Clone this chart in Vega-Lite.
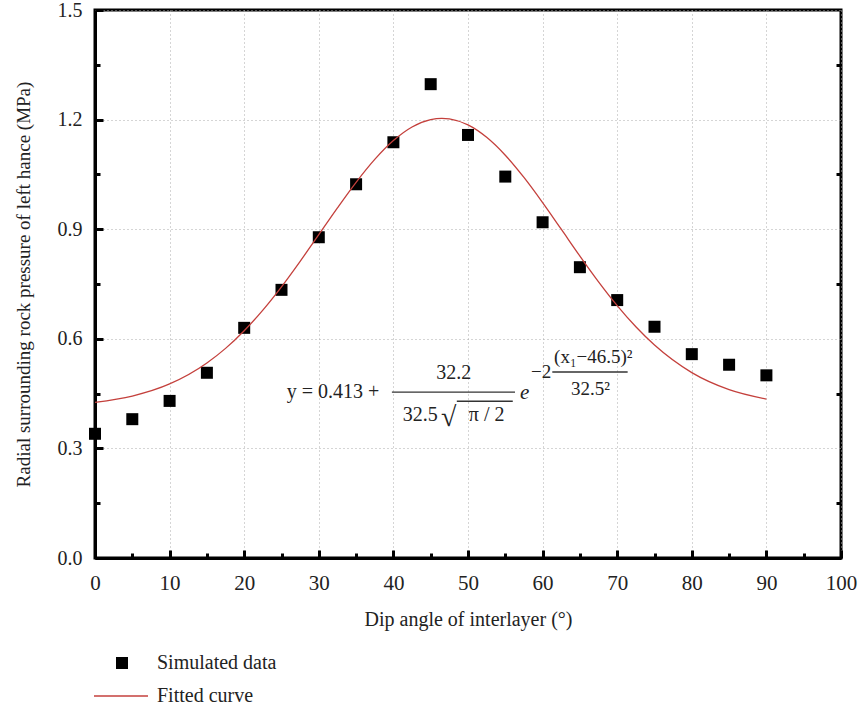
{
  "$schema": "https://vega.github.io/schema/vega-lite/v6.json",
  "width": 746,
  "height": 548,
  "padding": {"left": 95, "top": 10, "right": 20, "bottom": 154},
  "autosize": {"type": "none"},
  "background": "white",
  "config": {
    "font": "Liberation Serif",
    "view": {"stroke": "black", "strokeWidth": 3},
    "axis": {"labelFont": "Liberation Serif", "titleFont": "Liberation Serif", "labelColor": "#222", "titleColor": "#222", "titleFontWeight": "normal"},
    "legend": {"labelFont": "Liberation Serif"}
  },
  "datasets": {
    "pts": [
      {"angle": 0, "p": 0.34, "kind": "Simulated data"},
      {"angle": 5, "p": 0.38, "kind": "Simulated data"},
      {"angle": 10, "p": 0.43, "kind": "Simulated data"},
      {"angle": 15, "p": 0.507, "kind": "Simulated data"},
      {"angle": 20, "p": 0.63, "kind": "Simulated data"},
      {"angle": 25, "p": 0.734, "kind": "Simulated data"},
      {"angle": 30, "p": 0.878, "kind": "Simulated data"},
      {"angle": 35, "p": 1.023, "kind": "Simulated data"},
      {"angle": 40, "p": 1.138, "kind": "Simulated data"},
      {"angle": 45, "p": 1.297, "kind": "Simulated data"},
      {"angle": 50, "p": 1.158, "kind": "Simulated data"},
      {"angle": 55, "p": 1.044, "kind": "Simulated data"},
      {"angle": 60, "p": 0.919, "kind": "Simulated data"},
      {"angle": 65, "p": 0.796, "kind": "Simulated data"},
      {"angle": 70, "p": 0.706, "kind": "Simulated data"},
      {"angle": 75, "p": 0.633, "kind": "Simulated data"},
      {"angle": 80, "p": 0.558, "kind": "Simulated data"},
      {"angle": 85, "p": 0.529, "kind": "Simulated data"},
      {"angle": 90, "p": 0.5, "kind": "Simulated data"}
    ],
    "fit": [
      {"angle": 0, "p": 0.4262, "curve": "Fitted curve"},
      {"angle": 5, "p": 0.4433, "curve": "Fitted curve"},
      {"angle": 10, "p": 0.4764, "curve": "Fitted curve"},
      {"angle": 15, "p": 0.5338, "curve": "Fitted curve"},
      {"angle": 17.5, "p": 0.5738, "curve": "Fitted curve"},
      {"angle": 20, "p": 0.6222, "curve": "Fitted curve"},
      {"angle": 22.5, "p": 0.6786, "curve": "Fitted curve"},
      {"angle": 25, "p": 0.7424, "curve": "Fitted curve"},
      {"angle": 27.5, "p": 0.8121, "curve": "Fitted curve"},
      {"angle": 30, "p": 0.8851, "curve": "Fitted curve"},
      {"angle": 32.5, "p": 0.9584, "curve": "Fitted curve"},
      {"angle": 35, "p": 1.0284, "curve": "Fitted curve"},
      {"angle": 37.5, "p": 1.0911, "curve": "Fitted curve"},
      {"angle": 40, "p": 1.1427, "curve": "Fitted curve"},
      {"angle": 42.5, "p": 1.1799, "curve": "Fitted curve"},
      {"angle": 45, "p": 1.2001, "curve": "Fitted curve"},
      {"angle": 46.5, "p": 1.2035, "curve": "Fitted curve"},
      {"angle": 47.5, "p": 1.202, "curve": "Fitted curve"},
      {"angle": 50, "p": 1.1854, "curve": "Fitted curve"},
      {"angle": 52.5, "p": 1.1514, "curve": "Fitted curve"},
      {"angle": 55, "p": 1.1024, "curve": "Fitted curve"},
      {"angle": 57.5, "p": 1.0416, "curve": "Fitted curve"},
      {"angle": 60, "p": 0.9728, "curve": "Fitted curve"},
      {"angle": 62.5, "p": 0.8999, "curve": "Fitted curve"},
      {"angle": 65, "p": 0.8265, "curve": "Fitted curve"},
      {"angle": 67.5, "p": 0.756, "curve": "Fitted curve"},
      {"angle": 70, "p": 0.6908, "curve": "Fitted curve"},
      {"angle": 72.5, "p": 0.6328, "curve": "Fitted curve"},
      {"angle": 75, "p": 0.5828, "curve": "Fitted curve"},
      {"angle": 80, "p": 0.5074, "curve": "Fitted curve"},
      {"angle": 85, "p": 0.4608, "curve": "Fitted curve"},
      {"angle": 90, "p": 0.435, "curve": "Fitted curve"}
    ],
    "eq": [
      {"angle": 31.9, "p": 0.454, "t": "y = 0.413 +", "s": 20},
      {"angle": 48.1, "p": 0.506, "t": "32.2", "s": 20},
      {"angle": 43.6, "p": 0.391, "t": "32.5", "s": 20},
      {"angle": 47.4, "p": 0.383, "t": "\u221A", "s": 28},
      {"angle": 52.5, "p": 0.391, "t": "π / 2", "s": 20},
      {"angle": 59.8, "p": 0.509, "t": "\u22122", "s": 19},
      {"angle": 66.8, "p": 0.55, "t": "(x\u2081\u221246.5)\u00B2", "s": 19},
      {"angle": 66.4, "p": 0.463, "t": "32.5\u00B2", "s": 19}
    ],
    "eqi": [
      {"angle": 57.6, "p": 0.452, "t": "e", "s": 21}
    ],
    "bars": [
      {"angle": 39.8, "angle2": 56.3, "p": 0.454},
      {"angle": 48.5, "angle2": 56.0, "p": 0.429},
      {"angle": 61.3, "angle2": 71.4, "p": 0.509}
    ]
  },
  "resolve": {"axis": {"x": "independent", "y": "independent"}},
  "layer": [
    {
      "data": {"name": "pts"},
      "mark": {"type": "point", "shape": "square", "filled": true, "color": "black", "opacity": 1, "size": 144},
      "encoding": {
        "x": {"field": "angle", "type": "quantitative",
          "scale": {"domain": [0, 100], "nice": false, "zero": false},
          "axis": {"orient": "bottom", "values": [0, 10, 20, 30, 40, 50, 60, 70, 80, 90, 100], "title": "Dip angle of interlayer (°)",
            "titleFontSize": 20, "titlePadding": 16, "labelFontSize": 21, "labelPadding": 22, "labelFlush": false,
            "tickSize": -8, "tickWidth": 3, "tickColor": "black", "domainColor": "black", "domainWidth": 3,
            "grid": true, "gridColor": "#aaa", "gridDash": [1, 3], "gridWidth": 1}},
        "y": {"field": "p", "type": "quantitative",
          "scale": {"domain": [0, 1.5], "nice": false, "zero": false},
          "axis": {"orient": "left", "values": [0, 0.3, 0.6, 0.9, 1.2, 1.5], "format": ".1f", "title": "Radial surrounding rock pressure of left hance (MPa)",
            "titleFontSize": 19, "titlePadding": 24, "labelFontSize": 20, "labelPadding": 21, "labelFlush": false,
            "tickSize": -8, "tickWidth": 3, "tickColor": "black", "domainColor": "black", "domainWidth": 3,
            "grid": true, "gridColor": "#aaa", "gridDash": [1, 3], "gridWidth": 1}},
        "shape": {"field": "kind", "type": "nominal", "scale": {"range": ["square"]},
          "legend": {"title": null, "orient": "none", "legendX": 17, "legendY": 643, "symbolSize": 144, "symbolFillColor": "black", "symbolStrokeWidth": 0,
            "labelFontSize": 20, "labelColor": "#222", "labelOffset": 25, "padding": 0}}
      }
    },
    {
      "data": {"name": "fit"},
      "mark": {"type": "line", "color": "#c4403c", "strokeWidth": 1.3, "interpolate": "monotone"},
      "encoding": {
        "x": {"field": "angle", "type": "quantitative",
          "axis": {"orient": "bottom", "values": [5, 15, 25, 35, 45, 55, 65, 75, 85, 95], "labels": false, "title": null,
            "tickSize": -5, "tickWidth": 3, "tickColor": "black", "domain": false, "grid": false}},
        "y": {"field": "p", "type": "quantitative",
          "axis": {"orient": "left", "values": [0.15, 0.45, 0.75, 1.05, 1.35], "labels": false, "title": null,
            "tickSize": -5, "tickWidth": 3, "tickColor": "black", "domain": false, "grid": false}},
        "stroke": {"field": "curve", "type": "nominal", "scale": {"range": ["#c4403c"]},
          "legend": {"title": null, "orient": "none", "legendX": -2, "legendY": 658, "symbolSize": 2916, "symbolType": "stroke", "symbolStrokeWidth": 1.3,
            "labelFontSize": 20, "labelColor": "#222", "labelOffset": 8, "padding": 0}}
      }
    },
    {
      "data": {"name": "fit"},
      "mark": {"type": "line", "opacity": 0},
      "encoding": {
        "x": {"field": "angle", "type": "quantitative", "axis": null},
        "y": {"field": "p", "type": "quantitative",
          "axis": {"orient": "right", "values": [0.15, 0.45, 0.75, 1.05, 1.35], "labels": false, "title": null,
            "tickSize": -5, "tickWidth": 3, "tickColor": "black", "domain": false, "grid": false}}
      }
    },
    {
      "data": {"name": "eq"},
      "mark": {"type": "text", "font": "Liberation Serif", "color": "#222", "baseline": "middle", "align": "center"},
      "encoding": {
        "x": {"field": "angle", "type": "quantitative", "axis": null},
        "y": {"field": "p", "type": "quantitative", "axis": null},
        "text": {"field": "t"},
        "size": {"field": "s", "type": "quantitative", "scale": null}
      }
    },
    {
      "data": {"name": "eqi"},
      "mark": {"type": "text", "font": "Liberation Serif", "fontStyle": "italic", "color": "#222", "baseline": "middle", "align": "center"},
      "encoding": {
        "x": {"field": "angle", "type": "quantitative", "axis": null},
        "y": {"field": "p", "type": "quantitative", "axis": null},
        "text": {"field": "t"},
        "size": {"field": "s", "type": "quantitative", "scale": null}
      }
    },
    {
      "data": {"name": "bars"},
      "mark": {"type": "rule", "color": "#333", "strokeWidth": 1.4},
      "encoding": {
        "x": {"field": "angle", "type": "quantitative", "axis": null},
        "x2": {"field": "angle2"},
        "y": {"field": "p", "type": "quantitative", "axis": null}
      }
    }
  ]
}
